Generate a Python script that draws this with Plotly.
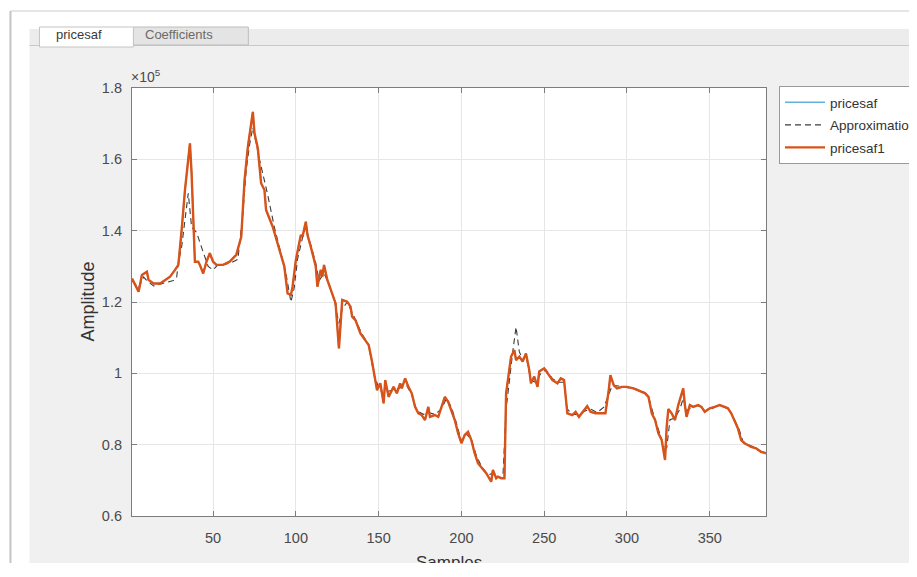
import plotly.graph_objects as go

# ---------------- data (values in units of 1e5) ----------------
samples = [1,5,7,10,11,14,18,21,24,27,29,31,33,36,37,39,41,42,44,46,48,50,52,56,60,64,67,69,71,74,75,77,79,81,82,86,90,93,95,97,98,100,103,104,106,107,109,112,113,115,116,117,119,121,124,126,128,131,133,134,136,139,142,144,146,148,149,151,153,154,156,159,161,163,164,166,168,170,172,174,176,178,180,181,184,186,188,190,192,194,196,198,200,202,204,206,208,210,212,215,218,219,221,222,224,226,227,228,230,232,233,235,237,239,241,242,244,246,247,250,252,255,258,260,262,263,264,267,269,271,274,276,278,281,284,287,289,290,292,294,297,300,304,308,311,313,315,317,319,321,323,324,325,327,329,331,334,335,336,338,340,343,345,347,350,353,356,359,361,363,365,367,369,371,373,375,378,381,384]
pricesaf1 = [1.266,1.229,1.276,1.285,1.262,1.252,1.252,1.262,1.271,1.29,1.304,1.402,1.514,1.645,1.561,1.313,1.313,1.304,1.28,1.313,1.337,1.313,1.304,1.304,1.313,1.332,1.383,1.542,1.635,1.733,1.673,1.631,1.533,1.514,1.458,1.411,1.346,1.30,1.224,1.22,1.243,1.318,1.388,1.383,1.425,1.388,1.355,1.30,1.243,1.29,1.271,1.304,1.262,1.234,1.196,1.07,1.206,1.201,1.187,1.159,1.149,1.112,1.093,1.079,1.033,0.981,0.953,0.972,0.916,0.981,0.934,0.962,0.944,0.972,0.958,0.986,0.962,0.944,0.906,0.888,0.883,0.869,0.906,0.878,0.883,0.878,0.906,0.934,0.92,0.897,0.869,0.832,0.804,0.827,0.836,0.813,0.776,0.748,0.738,0.72,0.696,0.729,0.706,0.71,0.706,0.706,0.944,0.981,1.047,1.065,1.037,1.047,1.033,1.056,1.009,0.972,0.991,0.962,1.005,1.014,1.0,0.981,0.972,0.986,0.981,0.925,0.888,0.883,0.892,0.878,0.897,0.908,0.892,0.888,0.888,0.888,0.953,0.995,0.967,0.958,0.962,0.962,0.958,0.949,0.944,0.934,0.888,0.869,0.832,0.813,0.757,0.85,0.9,0.888,0.869,0.911,0.958,0.911,0.878,0.911,0.906,0.911,0.906,0.892,0.902,0.906,0.911,0.906,0.902,0.888,0.869,0.846,0.813,0.804,0.799,0.794,0.79,0.78,0.776]
# pricesaf lies exactly under pricesaf1 in the picture (not separable)
pricesaf = pricesaf1

approx_samples = [1,5,8,10,14,18,22,26,28,29,31,33,35,37,40,44,47,50,53,57,61,65,66,68,70,72,74,76,78,80,83,87,91,94,97,99,101,104,106,109,112,114,117,120,123,126,128,131,134,137,140,144,147,150,153,156,160,164,167,170,173,177,180,184,188,191,194,197,200,203,206,209,212,216,219,222,225,227,229,231,233,235,237,239,242,245,248,251,255,259,262,264,267,271,275,278,282,286,289,291,294,298,302,306,310,313,316,319,322,324,326,329,332,334,336,339,343,347,351,355,359,362,365,368,370,373,376,379,382,384]
approximation = [1.26,1.24,1.27,1.26,1.245,1.25,1.255,1.26,1.27,1.31,1.355,1.43,1.505,1.41,1.395,1.34,1.30,1.29,1.305,1.305,1.31,1.32,1.36,1.45,1.57,1.64,1.69,1.64,1.60,1.56,1.50,1.41,1.34,1.28,1.20,1.24,1.32,1.38,1.41,1.36,1.31,1.26,1.28,1.25,1.21,1.14,1.18,1.20,1.17,1.14,1.11,1.08,1.00,0.96,0.94,0.95,0.955,0.96,0.965,0.94,0.895,0.885,0.89,0.885,0.90,0.93,0.905,0.86,0.81,0.83,0.815,0.77,0.74,0.715,0.72,0.71,0.705,0.90,0.99,1.06,1.13,1.06,1.04,1.05,0.98,0.975,1.0,1.01,0.985,0.975,0.975,0.90,0.885,0.885,0.895,0.90,0.89,0.905,0.94,0.965,0.965,0.962,0.96,0.955,0.948,0.935,0.885,0.84,0.80,0.79,0.87,0.875,0.90,0.93,0.895,0.905,0.91,0.895,0.90,0.91,0.905,0.895,0.87,0.84,0.81,0.80,0.795,0.785,0.78,0.775]

y_tickvals = [0.6, 0.8, 1.0, 1.2, 1.4, 1.6, 1.8]
y_ticktext = ["0.6", "0.8", "1", "1.2", "1.4", "1.6", "1.8"]
x_tickvals = [50, 100, 150, 200, 250, 300, 350]
x_ticktext = ["50", "100", "150", "200", "250", "300", "350"]

# ---------------- layout geometry (pixels, in screenshot space) ----------------
PAGE_OFF = 8          # default body margin of the html page
SHOT_W, PANEL_BOTTOM = 917, 563
W = SHOT_W - PAGE_OFF
H = PANEL_BOTTOM - PAGE_OFF
L, R, T, B = 131.6, 766.0, 88.0, 516.0

def px(x):
    return (x - L) / (R - L)

def py(y):
    return (B - y) / (B - T)

SANS = "Liberation Sans, Arial, Helvetica, sans-serif"

fig = go.Figure()
fig.add_trace(go.Scatter(x=samples, y=pricesaf, mode="lines", name="pricesaf",
                         line=dict(color="#62b0db", width=1.5), legendgroup="a"))
fig.add_trace(go.Scatter(x=approx_samples, y=approximation, mode="lines", name="Approximation",
                         line=dict(color="#3c3c3c", width=1.1, dash="6px,4px"), legendgroup="b"))
fig.add_trace(go.Scatter(x=samples, y=pricesaf1, mode="lines", name="pricesaf1",
                         line=dict(color="#d95319", width=2.4), legendgroup="c"))

shapes = []
def rect(x0, y0, x1, y1, fill, line=None, lw=0, layer="below"):
    shapes.append(dict(type="rect", xref="paper", yref="paper",
                       x0=px(x0), x1=px(x1), y0=py(y1), y1=py(y0),
                       fillcolor=fill, line=dict(color=line or fill, width=lw), layer=layer))

def hline(x0, x1, y, color, w=1):
    shapes.append(dict(type="line", xref="paper", yref="paper", x0=px(x0), x1=px(x1),
                       y0=py(y), y1=py(y), line=dict(color=color, width=w), layer="below"))

def vline(x, y0, y1, color, w=1):
    shapes.append(dict(type="line", xref="paper", yref="paper", x0=px(x), x1=px(x),
                       y0=py(y0), y1=py(y1), line=dict(color=color, width=w), layer="below"))

# grey panel
rect(29, 46, 930, 600, "#f0f0f0")
# tab strip
rect(29, 29, 930, 46, "#ececec")
hline(29, 930, 45.5, "#c9c9c9", 1.2)
# tabs
rect(133, 27, 248, 45, "#e4e4e4", "#bcbcbc", 1)
rect(39, 27, 133, 47, "#ffffff", "#c4c4c4", 1)
# outer frame lines
hline(10, 930, 11, "#dcdcdc", 1.5)
vline(10, 11, 600, "#c4c4c4", 2)
# white axes area
rect(L, T, R, B, "#ffffff")

annotations = [
    dict(text="pricesaf", x=px(79), y=py(34), xref="paper", yref="paper", showarrow=False,
         font=dict(family=SANS, size=13, color="#3a3a3a"), xanchor="center", yanchor="middle"),
    dict(text="Coefficients", x=px(179), y=py(34), xref="paper", yref="paper", showarrow=False,
         font=dict(family=SANS, size=13, color="#6a6a6a"), xanchor="center", yanchor="middle"),
    dict(text="×10<sup>5</sup>", x=px(129), y=py(76), xref="paper", yref="paper", showarrow=False,
         font=dict(family=SANS, size=14, color="#4a4a4a"), xanchor="left", yanchor="middle"),
    dict(text="Amplitude", x=px(88), y=py(301), xref="paper", yref="paper", showarrow=False,
         textangle=-90, font=dict(family=SANS, size=18, color="#333333"),
         xanchor="center", yanchor="middle"),
    dict(text="Samples", x=px(449), y=py(562), xref="paper", yref="paper", showarrow=False,
         font=dict(family=SANS, size=17, color="#333333"), xanchor="center", yanchor="middle"),
]

axis_common = dict(showline=True, linecolor="#7c7c7c", linewidth=1.2, mirror="ticks",
                   ticks="inside", ticklen=5, tickcolor="#7c7c7c", tickwidth=1.2,
                   showgrid=True, gridcolor="#e6e6e6", gridwidth=1, zeroline=False,
                   tickfont=dict(family=SANS, size=14.5, color="#4a4a4a"))

fig.update_layout(
    width=W, height=H,
    margin=dict(l=L - PAGE_OFF, r=SHOT_W - R, t=T - PAGE_OFF, b=PANEL_BOTTOM - B, autoexpand=False),
    paper_bgcolor="#ffffff", plot_bgcolor="#ffffff",
    showlegend=True,
    legend=dict(xref="container", yref="container", x=(779 - PAGE_OFF) / W, y=1 - (86 - PAGE_OFF) / H,
                xanchor="left", yanchor="top", bgcolor="#ffffff",
                bordercolor="#9a9a9a", borderwidth=1,
                font=dict(family=SANS, size=13.5, color="#333333"),
                traceorder="grouped", tracegroupgap=2, itemwidth=40),
    xaxis=dict(range=[1, 384], tickvals=x_tickvals, ticktext=x_ticktext,
               ticklabelstandoff=8, **axis_common),
    yaxis=dict(range=[0.6, 1.8], tickvals=y_tickvals, ticktext=y_ticktext,
               ticklabelstandoff=6, **axis_common),
    shapes=shapes, annotations=annotations,
)

fig.write_html("out.html")
